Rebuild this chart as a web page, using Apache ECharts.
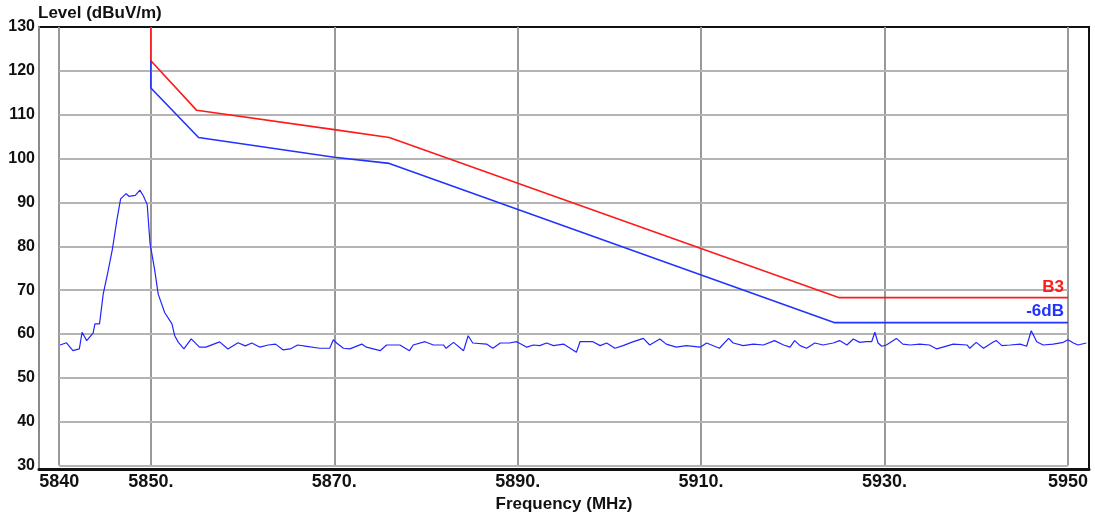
<!DOCTYPE html>
<html>
<head>
<meta charset="utf-8">
<script src="https://cdn.jsdelivr.net/npm/echarts@6/dist/echarts.min.js"></script>
<style>
html, body { margin: 0; padding: 0; background: #fff; }
#chart { width: 1095px; height: 518px; }
</style>
</head>
<body>
<div id="chart"></div>
<script>
// tick labels
var xTicks = [5840, 5850, 5870, 5890, 5910, 5930, 5950];
var yTicks = [30, 40, 50, 60, 70, 80, 90, 100, 110, 120, 130];

// limit line (red) and limit - 6dB (blue)
var limitFreq  = [5850, 5850, 5855, 5870, 5876, 5925, 5950];
var limitLevel = [130, 122.3, 111.0, 106.6, 104.8, 68.3, 68.3];
var limit6Freq  = [5850, 5850, 5855.2, 5870, 5876, 5924.5, 5950];
var limit6Level = [122.3, 116.1, 104.8, 100.3, 98.9, 62.6, 62.6];

// measured trace
var noiseFreq = [
	5840.1, 5840.8, 5841.5, 5842.2, 5842.5, 5843.0, 5843.7, 5843.9, 5844.4, 5844.8,
	5845.3, 5845.8, 5846.3, 5846.7, 5847.3, 5847.6, 5848.3, 5848.8, 5849.2, 5849.6,
	5849.9, 5850.4, 5850.8, 5851.5, 5852.3, 5852.6, 5853.0, 5853.6, 5854.4, 5855.3,
	5856.0, 5857.5, 5858.4, 5859.5, 5860.3, 5861.0, 5861.9, 5862.8, 5863.6, 5864.4,
	5865.2, 5866.0, 5867.0, 5868.4, 5869.5, 5869.9, 5870.25, 5871.0, 5871.7, 5873.0,
	5873.5, 5875.0, 5875.7, 5877.15, 5878.2, 5878.6, 5879.9, 5880.8, 5881.9, 5882.2,
	5883.0, 5884.1, 5884.6, 5885.1, 5886.6, 5887.3, 5888.1, 5889.1, 5889.9, 5891.0,
	5891.7, 5892.4, 5893.15, 5893.9, 5895.0, 5896.4, 5896.8, 5898.2, 5899.0, 5899.7,
	5900.6, 5901.5, 5902.4, 5903.7, 5904.4, 5905.5, 5906.2, 5907.3, 5908.4, 5909.9,
	5910.6, 5912.0, 5913.0, 5913.5, 5914.6, 5915.7, 5916.8, 5918.0, 5919.0, 5919.7,
	5920.2, 5920.8, 5921.5, 5922.4, 5923.3, 5924.4, 5925.1, 5925.9, 5926.6, 5927.3,
	5928.0, 5928.6, 5928.95, 5929.3, 5929.7, 5930.2, 5931.3, 5932.0, 5932.8, 5933.85,
	5934.9, 5935.7, 5937.5, 5939.0, 5939.3, 5940.0, 5940.8, 5941.9, 5942.2, 5942.8,
	5943.7, 5944.8, 5945.5, 5946.0, 5946.6, 5947.3, 5948.4, 5949.5, 5950.0, 5950.6,
	5951.1, 5952.0
];
var noiseLevel = [
	57.5, 58.0, 56.2, 56.6, 60.4, 58.5, 60.2, 62.3, 62.3, 69.1,
	74.0, 79.3, 86.1, 90.8, 92.0, 91.4, 91.6, 92.8, 91.4, 89.5,
	80.8, 74.8, 69.1, 64.9, 62.3, 59.6, 58.1, 56.6, 58.9, 57.0,
	57.0, 58.2, 56.6, 58.0, 57.3, 57.95, 57.0, 57.5, 57.7, 56.4,
	56.6, 57.5, 57.2, 56.75, 56.75, 58.7, 57.95, 56.75, 56.6, 57.7,
	57.0, 56.2, 57.5, 57.5, 56.2, 57.5, 58.25, 57.5, 57.5, 56.75,
	58.1, 56.2, 59.6, 57.95, 57.7, 56.75, 57.95, 57.95, 58.25, 57.0,
	57.5, 57.35, 57.95, 57.35, 57.7, 55.85, 58.25, 58.25, 57.35, 57.95,
	56.75, 57.35, 58.1, 59.0, 57.5, 58.85, 57.7, 57.0, 57.35, 57.0,
	57.95, 56.75, 59.0, 57.95, 57.35, 57.7, 57.5, 58.5, 57.5, 57.0,
	58.5, 57.35, 56.75, 57.95, 57.5, 57.95, 58.5, 57.5, 58.85, 58.1,
	58.25, 58.25, 60.4, 57.95, 57.2, 57.5, 59.0, 57.7, 57.5, 57.7,
	57.5, 56.6, 57.7, 57.5, 56.75, 58.1, 56.75, 58.25, 58.5, 57.35,
	57.5, 57.7, 57.2, 60.75, 58.25, 57.5, 57.7, 58.1, 58.7, 57.95,
	57.5, 57.95
];

function zip(a, b) {
	return a.map(function (v, i) { return [v, b[i]]; });
}

var font = 'Liberation Sans, Arial, sans-serif';
var chart = echarts.init(document.getElementById('chart'));

// inner grid, drawn only inside 5840..5950 / 30..130
var gridLines = [];
xTicks.forEach(function (x) {
	gridLines.push([{ coord: [x, 30], lineStyle: { color: '#999', width: 2, type: 'solid' } }, { coord: [x, 130] }]);
});
yTicks.forEach(function (y) {
	if (y < 130) gridLines.push([{ coord: [5840, y], lineStyle: { color: '#b4b4b4', width: 2, type: 'solid' } }, { coord: [5950, y] }]);
});

var option = {
	animation: false,
	title: {
		text: 'Level (dBuV/m)',
		left: 38,
		top: 5,
		padding: 0,
		textStyle: { fontFamily: font, fontSize: 17, fontWeight: 'bold', color: '#111' }
	},
	grid: {
		left: 39, right: 6, top: 27, bottom: 48,
		show: true,
		borderColor: '#111',
		borderWidth: 2,
		containLabel: false
	},
	xAxis: {
		type: 'value',
		min: 5837.8,
		max: 5952.3,
		name: 'Frequency (MHz)',
		nameLocation: 'middle',
		nameGap: 23,
		nameTextStyle: { fontFamily: font, fontSize: 17, fontWeight: 'bold', color: '#111' },
		axisLine: { show: true, onZero: false, lineStyle: { color: '#111', width: 3 } },
		axisTick: { show: false },
		splitLine: { show: false },
		axisLabel: {
			customValues: xTicks,
			margin: 4,
			fontFamily: font, fontSize: 18, fontWeight: 'bold', color: '#111',
			formatter: function (v) {
				return (v === 5840 || v === 5950) ? String(v) : v + '.';
			}
		}
	},
	yAxis: {
		type: 'value',
		min: 29.2,
		max: 130,
		axisLine: { show: true, onZero: false, lineStyle: { color: '#8a8a8a', width: 2 } },
		axisTick: { show: false },
		splitLine: { show: false },
		axisLabel: {
			customValues: yTicks,
			margin: 4,
			fontFamily: font, fontSize: 16, fontWeight: 'bold', color: '#111'
		}
	},
	series: [
		{
			name: 'grid',
			type: 'line',
			data: [],
			silent: true,
			z: 1,
			markLine: {
				silent: true,
				z: 1,
				symbol: ['none', 'none'],
				label: { show: false },
				lineStyle: { type: 'solid' },
				emphasis: { disabled: true },
				data: gridLines
			}
		},
		{
			name: 'trace',
			type: 'line',
			data: zip(noiseFreq, noiseLevel),
			showSymbol: false,
			z: 3,
			lineStyle: { color: '#2424ff', width: 1.2 }
		},
		{
			name: 'B3',
			type: 'line',
			data: zip(limitFreq, limitLevel),
			showSymbol: false,
			z: 4,
			lineStyle: { color: '#ff1a1a', width: 1.6 },
			markPoint: {
				symbolSize: 0,
				silent: true,
				data: [{ coord: [5950, 68.3] }],
				label: {
					show: true, formatter: 'B3', position: 'top', align: 'right', distance: 2, offset: [-4, 0],
					fontFamily: font, fontSize: 17, fontWeight: 'bold', color: '#ff1a1a'
				}
			}
		},
		{
			name: '-6dB',
			type: 'line',
			data: zip(limit6Freq, limit6Level),
			showSymbol: false,
			z: 4,
			lineStyle: { color: '#2233ff', width: 1.6 },
			markPoint: {
				symbolSize: 0,
				silent: true,
				data: [{ coord: [5950, 62.6] }],
				label: {
					show: true, formatter: '-6dB', position: 'top', align: 'right', distance: 3, offset: [-4, 0],
					fontFamily: font, fontSize: 17, fontWeight: 'bold', color: '#2233ff'
				}
			}
		}
	]
};
chart.setOption(option);

window.onresize = function () {
	chart.resize();
};
</script>
</body>
</html>
